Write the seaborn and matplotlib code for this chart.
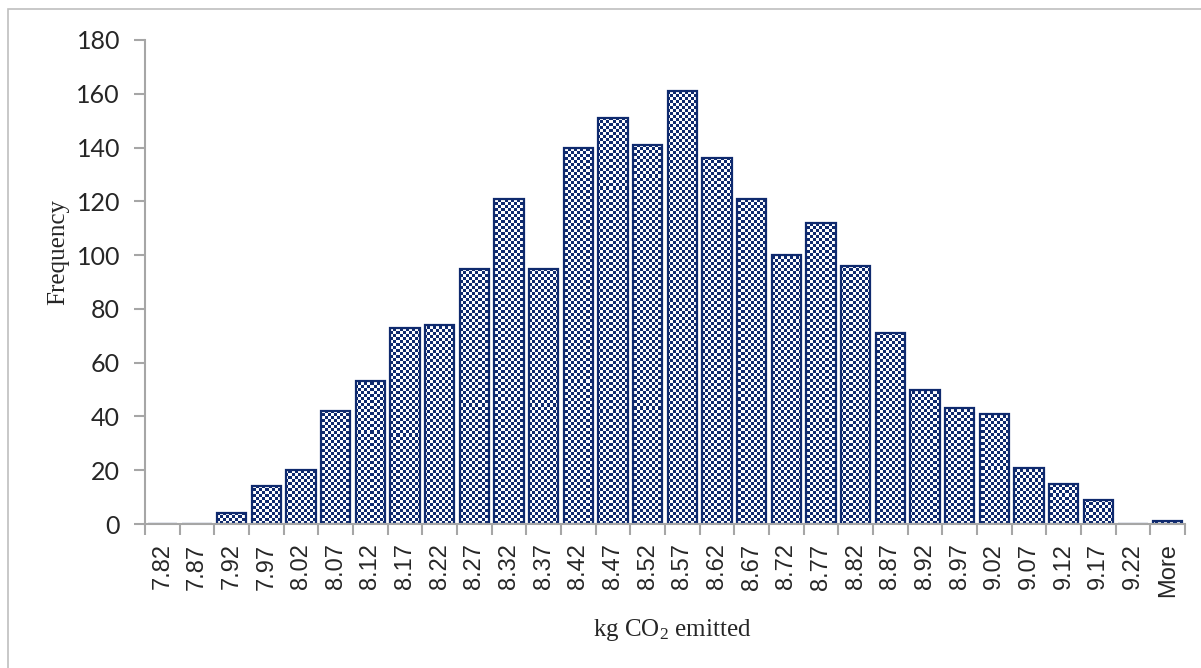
import numpy as np
import pandas as pd
import matplotlib
matplotlib.use("Agg")
import matplotlib.pyplot as plt
import seaborn as sns
from matplotlib.patches import Rectangle

# histogram bins (upper edges) and counts
bins = ["7.82", "7.87", "7.92", "7.97", "8.02", "8.07", "8.12", "8.17", "8.22", "8.27",
        "8.32", "8.37", "8.42", "8.47", "8.52", "8.57", "8.62", "8.67", "8.72", "8.77",
        "8.82", "8.87", "8.92", "8.97", "9.02", "9.07", "9.12", "9.17", "9.22", "More"]
freq = [0, 0, 4, 14, 20, 42, 53, 73, 74, 95,
        121, 95, 140, 151, 141, 161, 136, 121, 100, 112,
        96, 71, 50, 43, 41, 21, 15, 9, 0, 1]

df = pd.DataFrame({"bin": bins, "freq": freq})

sns.set_theme(style="white")
plt.rcParams["font.family"] = ["Liberation Sans", "DejaVu Sans"]
plt.rcParams["mathtext.fontset"] = "custom"
plt.rcParams["mathtext.rm"] = "Liberation Serif"
plt.rcParams["mathtext.it"] = "Liberation Serif:italic"

navy = "#0f2a6e"
grey = "#a6a6a6"

fig = plt.figure(figsize=(12.01, 6.68), dpi=100)
ax = fig.add_axes([145 / 1201, 1 - 524 / 668, 1040 / 1201, 484 / 668])

sns.barplot(data=df, x="bin", y="freq", ax=ax, color="white", width=0.84,
            edgecolor=navy, linewidth=1.6, saturation=1)

# checkerboard fill, clipped to each bar
ny, nx = 161, 347
yy, xx = np.mgrid[0:ny, 0:nx]
checker = ((xx + yy) % 2).astype(float)
cmap = matplotlib.colors.ListedColormap(["white", navy])
for bar in ax.patches:
    if bar.get_height() <= 0:
        continue
    im = ax.imshow(checker, cmap=cmap, extent=(-0.5, len(bins) - 0.5, 0, 180),
                   origin="lower", interpolation="nearest", aspect="auto", zorder=1.5)
    im.set_clip_path(bar)
for bar in ax.patches:
    bar.set_zorder(2)
    bar.set_facecolor("none")
ax.set_xlim(-0.5, len(bins) - 0.5)
ax.set_ylim(0, 180)

ax.set_yticks(range(0, 181, 20))
ax.set_yticklabels([str(v) for v in range(0, 181, 20)], family="Lato", fontsize=18)
ax.tick_params(axis="y", left=True, length=8, width=1.5, color=grey, pad=10)

ax.set_xticks(range(len(bins)))
ax.set_xticklabels(bins, rotation=90, fontsize=17)
ax.set_xticks(np.arange(-0.5, len(bins), 1), minor=True)
ax.tick_params(axis="x", which="major", length=0, pad=14)
ax.tick_params(axis="x", which="minor", bottom=True, length=8, width=1.5, color=grey)

for side in ["top", "right"]:
    ax.spines[side].set_visible(False)
for side in ["left", "bottom"]:
    ax.spines[side].set_color(grey)
    ax.spines[side].set_linewidth(1.5)

ax.set_xlabel("")
ax.set_ylabel("")
fig.text(58 / 1201, 1 - 252 / 668, "Frequency", rotation=90, ha="center", va="center",
         family="Liberation Serif", fontsize=18)
fig.text(672 / 1201, 1 - 630 / 668, r"kg CO$_2$ emitted", ha="center", va="center",
         family="Liberation Serif", fontsize=18)

# outer chart border (only left and top visible in the crop)
fig.add_artist(Rectangle((7.5 / 1201, -0.1), 1.2, 1 - 9.5 / 668 + 0.1,
                         transform=fig.transFigure, fill=False, edgecolor="#bfbfbf",
                         linewidth=1.2))

fig.savefig("out.png", dpi=100)
